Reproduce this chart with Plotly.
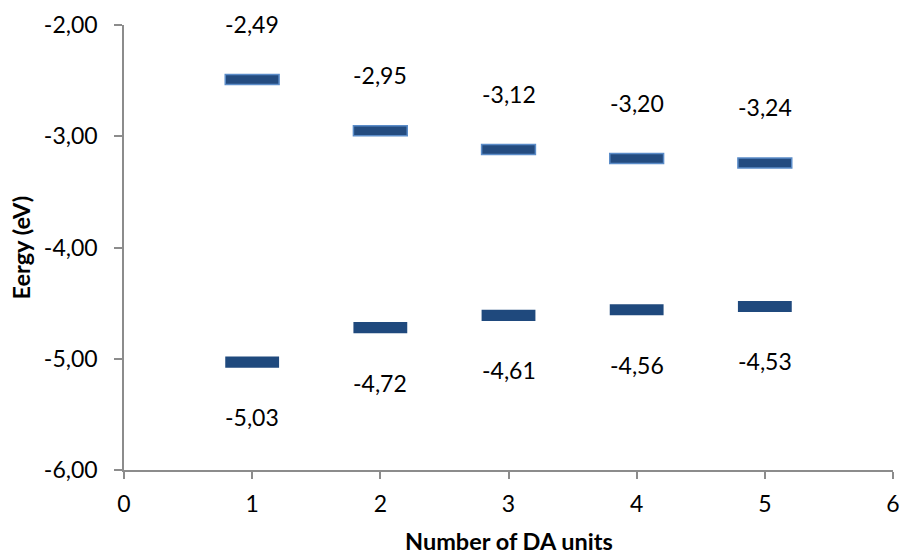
import plotly.graph_objects as go

units = [1, 2, 3, 4, 5]
lumo = [-2.49, -2.95, -3.12, -3.20, -3.24]
homo = [-5.03, -4.72, -4.61, -4.56, -4.53]

x_ticks = [0, 1, 2, 3, 4, 5, 6]
y_ticks = [-6, -5, -4, -3, -2]

x_title = "Number of DA units"
y_title = "Eergy (eV)"

FONT = "Lato"
bar_w = 0.42
bar_h_l = 0.09
bar_h_h = 0.10


def fmt(v):
    return f"{v:.2f}".replace(".", ",")


fig = go.Figure()
fig.add_trace(go.Bar(
    x=units, y=[bar_h_l] * len(units), base=[v - bar_h_l / 2 for v in lumo],
    width=bar_w, marker=dict(color="#244C80", line=dict(color="#5B8CC8", width=1.5)),
    showlegend=False, hoverinfo="skip"))
fig.add_trace(go.Bar(
    x=units, y=[bar_h_h] * len(units), base=[v - bar_h_h / 2 for v in homo],
    width=bar_w, marker=dict(color="#1F497D", line=dict(width=0)),
    showlegend=False, hoverinfo="skip"))

for u, v in zip(units, lumo):
    fig.add_annotation(x=u, y=v, text=fmt(v), showarrow=False, yshift=56,
                       font=dict(family=FONT, size=23, color="#000000"))
for u, v in zip(units, homo):
    fig.add_annotation(x=u, y=v, text=fmt(v), showarrow=False, yshift=-55,
                       font=dict(family=FONT, size=23, color="#000000"))

fig.add_annotation(text=x_title, xref="paper", yref="paper", x=0.5, y=0,
                   xanchor="center", yanchor="middle",
                   yshift=-71, showarrow=False,
                   font=dict(family=FONT, size=23.5, color="#000000", weight="bold"))
fig.add_annotation(text=y_title, xref="paper", yref="paper", x=0, y=0.5,
                   xanchor="center", yanchor="middle",
                   xshift=-104, textangle=-90, showarrow=False,
                   font=dict(family=FONT, size=23.5, color="#000000", weight="bold"))

fig.update_layout(
    width=902, height=555, barmode="overlay",
    margin=dict(l=123.5, r=8.5, t=25, b=85),
    plot_bgcolor="white", paper_bgcolor="white",
    font=dict(family=FONT, size=23, color="#000000"),
    xaxis=dict(range=[0, 6], tickvals=x_ticks, ticktext=[str(t) for t in x_ticks],
               showgrid=False, zeroline=False, automargin=False,
               showline=True, linecolor="#8C8C8C", linewidth=1.5,
               ticks="outside", ticklen=7, tickcolor="#8C8C8C", tickwidth=1.5,
               ticklabelstandoff=6, tickfont=dict(family=FONT, size=23)),
    yaxis=dict(range=[-6, -2], tickvals=y_ticks, ticktext=[fmt(t) for t in y_ticks],
               showgrid=False, zeroline=False, automargin=False,
               showline=True, linecolor="#8C8C8C", linewidth=1.5,
               ticks="outside", ticklen=8, tickcolor="#8C8C8C", tickwidth=1.5,
               ticklabelstandoff=12, tickfont=dict(family=FONT, size=23)),
)

fig.write_html(
    "out.html",
    config={"displayModeBar": False},
    post_script="document.body.style.margin='0';document.documentElement.style.overflow='hidden';",
)
